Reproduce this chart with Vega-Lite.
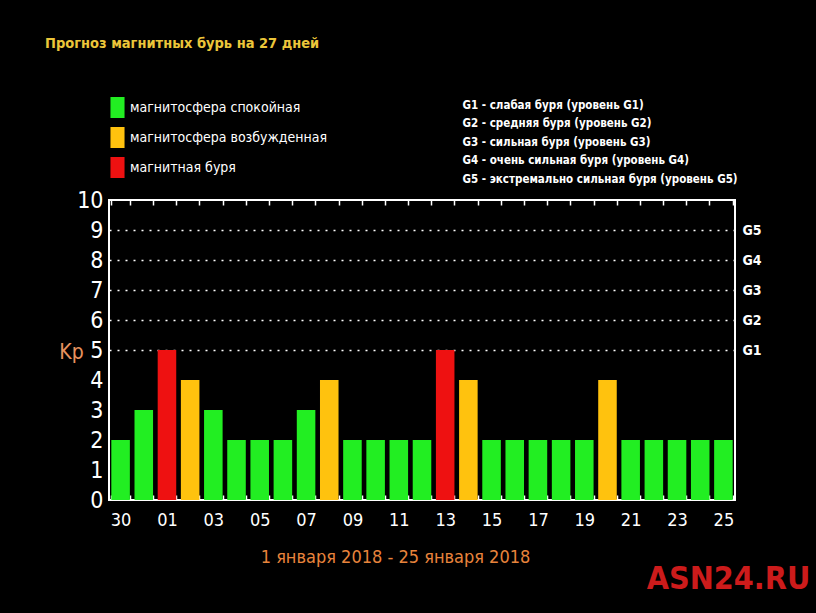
{
  "$schema": "https://vega.github.io/schema/vega-lite/v6.json",
  "width": 626,
  "height": 300,
  "autosize": "none",
  "padding": {"left": 109, "top": 200, "right": 81, "bottom": 113},
  "background": "black",
  "title": {
    "text": "Прогноз магнитных бурь на 27 дней",
    "anchor": "start",
    "frame": "group",
    "dx": -64,
    "offset": 46,
    "color": "#ecc63a",
    "fontSize": 14.5,
    "fontWeight": "bold",
    "font": "'Liberation Sans Narrow', 'DejaVu Sans Condensed', sans-serif"
  },
  "config": {
    "view": {"stroke": "white", "strokeWidth": 2},
    "font": "'Liberation Sans Narrow', 'DejaVu Sans Condensed', sans-serif"
  },
  "data": {
    "values": [
      {"day": "30", "kp": 2, "status": "магнитосфера спокойная"},
      {"day": "31", "kp": 3, "status": "магнитосфера спокойная"},
      {"day": "01", "kp": 5, "status": "магнитная буря"},
      {"day": "02", "kp": 4, "status": "магнитосфера возбужденная"},
      {"day": "03", "kp": 3, "status": "магнитосфера спокойная"},
      {"day": "04", "kp": 2, "status": "магнитосфера спокойная"},
      {"day": "05", "kp": 2, "status": "магнитосфера спокойная"},
      {"day": "06", "kp": 2, "status": "магнитосфера спокойная"},
      {"day": "07", "kp": 3, "status": "магнитосфера спокойная"},
      {"day": "08", "kp": 4, "status": "магнитосфера возбужденная"},
      {"day": "09", "kp": 2, "status": "магнитосфера спокойная"},
      {"day": "10", "kp": 2, "status": "магнитосфера спокойная"},
      {"day": "11", "kp": 2, "status": "магнитосфера спокойная"},
      {"day": "12", "kp": 2, "status": "магнитосфера спокойная"},
      {"day": "13", "kp": 5, "status": "магнитная буря"},
      {"day": "14", "kp": 4, "status": "магнитосфера возбужденная"},
      {"day": "15", "kp": 2, "status": "магнитосфера спокойная"},
      {"day": "16", "kp": 2, "status": "магнитосфера спокойная"},
      {"day": "17", "kp": 2, "status": "магнитосфера спокойная"},
      {"day": "18", "kp": 2, "status": "магнитосфера спокойная"},
      {"day": "19", "kp": 2, "status": "магнитосфера спокойная"},
      {"day": "20", "kp": 4, "status": "магнитосфера возбужденная"},
      {"day": "21", "kp": 2, "status": "магнитосфера спокойная"},
      {"day": "22", "kp": 2, "status": "магнитосфера спокойная"},
      {"day": "23", "kp": 2, "status": "магнитосфера спокойная"},
      {"day": "24", "kp": 2, "status": "магнитосфера спокойная"},
      {"day": "25", "kp": 2, "status": "магнитосфера спокойная"}
    ]
  },
  "layer": [
    {
      "mark": {"type": "bar"},
      "encoding": {
        "x": {
          "field": "day", "type": "nominal", "sort": null,
          "scale": {"paddingInner": 0.2, "paddingOuter": 0.1},
          "axis": {
            "orient": "bottom",
            "labelAngle": 0,
            "labelExpr": "datum.value == '31' ? '' : ((datum.value == '30' || toNumber(datum.value) % 2 == 1) ? datum.value : '')",
            "labelColor": "white",
            "labelFontSize": 18,
            "labelPadding": 16,
            "labelBaseline": "top",
            "tickBand": "extent",
            "tickSize": -5,
            "tickColor": "white",
            "tickWidth": 1.5,
            "domain": false,
            "grid": false,
            "title": "1 января 2018 - 25 января 2018",
            "titleColor": "#e8843c",
            "titleFontSize": 18,
            "titleFontWeight": "normal",
            "titleX": 286,
            "titleY": 57,
            "titleAlign": "center",
            "titleBaseline": "middle"
          }
        },
        "y": {
          "field": "kp", "type": "quantitative",
          "scale": {"domain": [0, 10], "nice": false},
          "axis": {
            "orient": "left",
            "values": [0, 1, 2, 3, 4, 5, 6, 7, 8, 9, 10],
            "labelColor": "white",
            "labelFontSize": 23,
            "labelPadding": 6,
            "ticks": false,
            "domain": false,
            "grid": false,
            "title": "Kp",
            "titleAngle": 0,
            "titleColor": "#e8925e",
            "titleFontSize": 21,
            "titleFontWeight": "normal",
            "titleX": -38,
            "titleY": 152,
            "titleAlign": "center",
            "titleBaseline": "middle"
          }
        },
        "color": {
          "field": "status", "type": "nominal",
          "scale": {
            "domain": ["магнитосфера спокойная", "магнитосфера возбужденная", "магнитная буря"],
            "range": ["#22ee22", "#ffc20e", "#ee1111"]
          },
          "legend": {
            "orient": "none",
            "legendX": -2,
            "legendY": -103,
            "title": null,
            "symbolType": "M-0.67,-1H0.67V1H-0.67Z",
            "symbolSize": 441,
            "symbolStrokeWidth": 0,
            "symbolOpacity": 1,
            "rowPadding": 9,
            "labelOffset": 2,
            "labelColor": "white",
            "labelFontSize": 14,
            "labelLimit": 400
          }
        }
      }
    },
    {
      "mark": {"type": "bar", "opacity": 0},
      "encoding": {
        "x": {
          "field": "day", "type": "nominal", "sort": null,
          "axis": {
            "orient": "top",
            "labels": false,
            "tickBand": "extent",
            "tickSize": -5,
            "tickColor": "white",
            "tickWidth": 1.5,
            "domain": false,
            "grid": false,
            "title": null
          }
        },
        "y": {
          "field": "kp", "type": "quantitative",
          "axis": {
            "orient": "right",
            "values": [5, 6, 7, 8, 9],
            "labelExpr": "'G' + (datum.value - 4)",
            "labelColor": "white",
            "labelFontSize": 14,
            "labelFontWeight": "bold",
            "labelPadding": 7,
            "ticks": false,
            "domain": false,
            "grid": true,
            "gridColor": "white",
            "gridDash": [2, 6],
            "gridWidth": 1.5,
            "title": "ASN24.RU",
            "titleAngle": 0,
            "titleColor": "#cc1b1b",
            "titleFontSize": 32,
            "titleFontWeight": "bold",
            "titleX": -7,
            "titleY": 378,
            "titleAlign": "center",
            "titleBaseline": "middle"
          }
        }
      }
    },
    {
      "data": {
        "values": [
          {"desc": "G1 - слабая буря (уровень G1)"},
          {"desc": "G2 - средняя буря (уровень G2)"},
          {"desc": "G3 - сильная буря (уровень G3)"},
          {"desc": "G4 - очень сильная буря (уровень G4)"},
          {"desc": "G5 - экстремально сильная буря (уровень G5)"}
        ]
      },
      "mark": {"type": "point", "opacity": 0},
      "encoding": {
        "shape": {
          "field": "desc", "type": "nominal",
          "legend": {
            "orient": "none",
            "legendX": 342,
            "legendY": -100,
            "title": null,
            "symbolSize": 1,
            "symbolOpacity": 0,
            "symbolStrokeWidth": 0,
            "labelOffset": 0,
            "rowPadding": 5.5,
            "labelColor": "white",
            "labelFontSize": 11.5,
            "labelFontWeight": "bold",
            "labelLimit": 400
          }
        }
      }
    }
  ],
  "resolve": {"axis": {"x": "independent", "y": "independent"}}
}
